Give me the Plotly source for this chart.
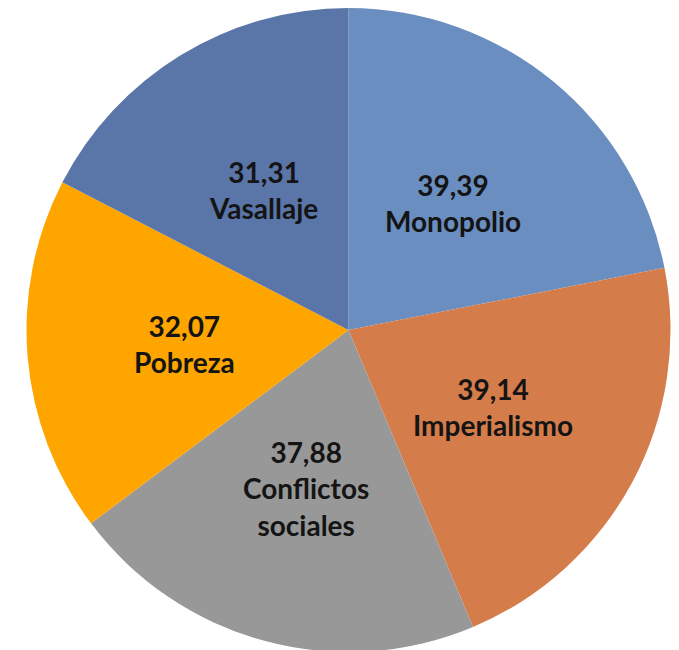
import math
import plotly.graph_objects as go

categorias = ["Monopolio", "Imperialismo", "Conflictos<br>sociales", "Pobreza", "Vasallaje"]
valores = [39.39, 39.14, 37.88, 32.07, 31.31]
etiquetas_valor = ["39,39", "39,14", "37,88", "32,07", "31,31"]
colores = ["#6a8ebf", "#d57c4b", "#989898", "#fea500", "#5a76a8"]

W, H = 679, 650
M = dict(l=10, r=8, t=0, b=6)
plot_w = W - M["l"] - M["r"]
plot_h = H - M["t"] - M["b"]
radio = min(plot_w, plot_h) / 2

fig = go.Figure(go.Pie(
    labels=categorias,
    values=valores,
    textinfo="none",
    sort=False,
    direction="clockwise",
    rotation=0,
    marker=dict(colors=colores, line=dict(width=0)),
    showlegend=False,
    hoverinfo="label+value",
))

# etiquetas dentro de cada sector, en el ángulo medio
total = sum(valores)
acum = 0
for v, c, ev in zip(valores, categorias, etiquetas_valor):
    ang = 2 * math.pi * (acum + v / 2) / total
    acum += v
    r = 0.51 * radio
    fig.add_annotation(
        x=0.5 + r * math.sin(ang) / plot_w,
        y=0.5 + r * math.cos(ang) / plot_h,
        xref="paper", yref="paper",
        xanchor="center", yanchor="middle",
        text=f"<b>{ev}<br>{c}</b>",
        showarrow=False,
        font=dict(family="Lato", size=28, color="#141414"),
        align="center",
    )

fig.update_layout(
    width=W,
    height=H,
    margin=M,
    paper_bgcolor="white",
    plot_bgcolor="white",
)

fig.write_html("out.html")
